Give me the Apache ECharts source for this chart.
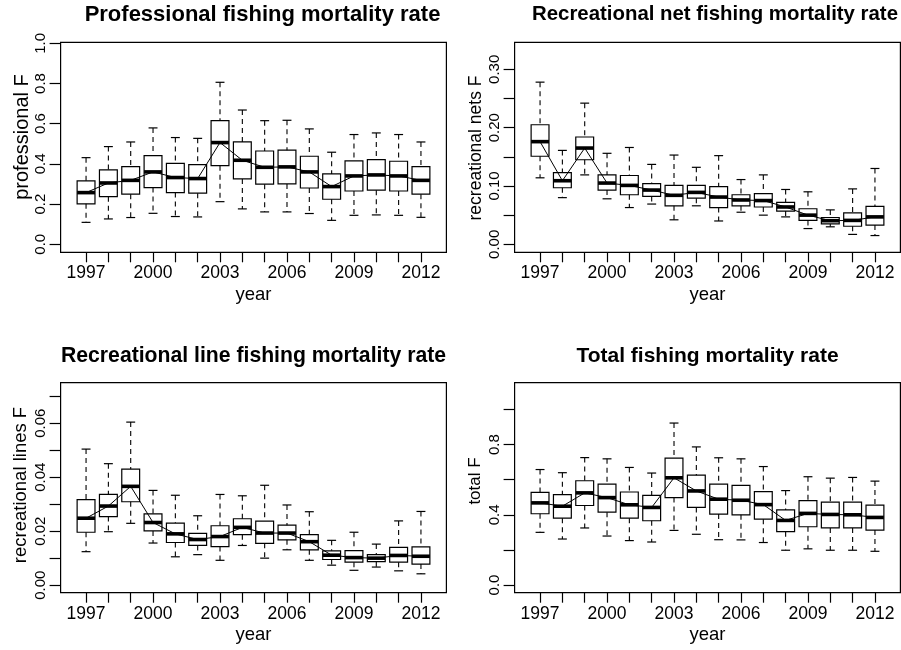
<!DOCTYPE html>
<html>
<head>
<meta charset="UTF-8">
<title>Fishing mortality rates</title>
<script type="text/javascript" src="https://cdn.jsdelivr.net/npm/echarts@6/dist/echarts.min.js"></script>
</head>
<body style="margin:0;background:#fff;">
<div id="container" style="width:901px;height:650px;"></div>
<script type="text/javascript">
var years = [1997, 1998, 1999, 2000, 2001, 2002, 2003, 2004, 2005, 2006, 2007, 2008, 2009, 2010, 2011, 2012];
var yearLabels = [1997, 2000, 2003, 2006, 2009, 2012];

// one row per year: [lower whisker, Q1, median, Q3, upper whisker]
var professional = [
  [0.109, 0.201, 0.257, 0.315, 0.431],
  [0.126, 0.237, 0.305, 0.370, 0.486],
  [0.133, 0.249, 0.318, 0.386, 0.509],
  [0.154, 0.282, 0.360, 0.441, 0.579],
  [0.138, 0.257, 0.332, 0.403, 0.531],
  [0.136, 0.254, 0.327, 0.396, 0.527],
  [0.212, 0.391, 0.506, 0.615, 0.806],
  [0.176, 0.325, 0.418, 0.509, 0.668],
  [0.161, 0.299, 0.383, 0.464, 0.615],
  [0.161, 0.300, 0.385, 0.468, 0.617],
  [0.153, 0.280, 0.360, 0.438, 0.574],
  [0.119, 0.224, 0.287, 0.350, 0.458],
  [0.144, 0.265, 0.340, 0.415, 0.546],
  [0.146, 0.269, 0.345, 0.421, 0.554],
  [0.144, 0.265, 0.340, 0.413, 0.546],
  [0.134, 0.249, 0.318, 0.386, 0.509]
];
var recNets = [
  [0.114, 0.151, 0.176, 0.205, 0.278],
  [0.080, 0.097, 0.109, 0.123, 0.161],
  [0.119, 0.145, 0.165, 0.184, 0.242],
  [0.078, 0.093, 0.105, 0.119, 0.156],
  [0.063, 0.085, 0.101, 0.118, 0.166],
  [0.069, 0.082, 0.093, 0.104, 0.137],
  [0.042, 0.066, 0.084, 0.101, 0.153],
  [0.066, 0.079, 0.089, 0.101, 0.132],
  [0.040, 0.063, 0.081, 0.099, 0.152],
  [0.055, 0.066, 0.076, 0.085, 0.111],
  [0.050, 0.064, 0.075, 0.087, 0.119],
  [0.047, 0.057, 0.064, 0.072, 0.094],
  [0.027, 0.041, 0.050, 0.061, 0.090],
  [0.030, 0.035, 0.0405, 0.046, 0.059],
  [0.017, 0.031, 0.041, 0.054, 0.095],
  [0.015, 0.033, 0.047, 0.065, 0.130]
];
var recLines = [
  [0.0124, 0.0196, 0.0248, 0.0317, 0.0504],
  [0.0198, 0.0254, 0.0293, 0.0336, 0.0450],
  [0.0229, 0.0309, 0.0366, 0.0430, 0.0604],
  [0.0156, 0.0201, 0.0232, 0.0264, 0.0351],
  [0.0105, 0.0158, 0.0190, 0.0230, 0.0333],
  [0.0113, 0.0147, 0.0169, 0.0192, 0.0257],
  [0.0092, 0.0143, 0.0180, 0.0220, 0.0336],
  [0.0147, 0.0187, 0.0214, 0.0246, 0.0331],
  [0.0100, 0.0155, 0.0193, 0.0237, 0.0370],
  [0.0131, 0.0168, 0.0193, 0.0222, 0.0297],
  [0.0092, 0.0131, 0.0161, 0.0187, 0.0272],
  [0.0074, 0.0095, 0.0111, 0.0127, 0.0166],
  [0.0055, 0.0085, 0.0102, 0.0128, 0.0196],
  [0.0067, 0.0087, 0.0100, 0.0113, 0.0152],
  [0.0053, 0.0085, 0.0110, 0.0140, 0.0238],
  [0.0042, 0.0078, 0.0107, 0.0142, 0.0273]
];
var totalF = [
  [0.300, 0.406, 0.468, 0.528, 0.658],
  [0.262, 0.381, 0.449, 0.515, 0.640],
  [0.325, 0.453, 0.525, 0.594, 0.726],
  [0.279, 0.415, 0.498, 0.575, 0.719],
  [0.253, 0.381, 0.457, 0.530, 0.670],
  [0.245, 0.366, 0.442, 0.511, 0.638],
  [0.311, 0.498, 0.611, 0.723, 0.923],
  [0.289, 0.442, 0.536, 0.626, 0.787],
  [0.258, 0.404, 0.489, 0.575, 0.725],
  [0.257, 0.400, 0.483, 0.568, 0.719],
  [0.242, 0.375, 0.458, 0.532, 0.675],
  [0.198, 0.304, 0.368, 0.428, 0.538],
  [0.206, 0.332, 0.408, 0.481, 0.617],
  [0.198, 0.325, 0.402, 0.472, 0.609],
  [0.198, 0.325, 0.400, 0.472, 0.613],
  [0.192, 0.313, 0.385, 0.455, 0.592]
];

// y ticks and the subset that carries a label
var profTicks = [0, 0.2, 0.4, 0.6, 0.8, 1.0];
var profLabels = [0, 0.2, 0.4, 0.6, 0.8, 1.0];
var netsTicks = [0, 0.05, 0.1, 0.15, 0.2, 0.25, 0.3];
var netsLabels = [0, 0.1, 0.2, 0.3];
var linesTicks = [0, 0.01, 0.02, 0.03, 0.04, 0.05, 0.06, 0.07];
var linesLabels = [0, 0.02, 0.04, 0.06];
var totalTicks = [0, 0.2, 0.4, 0.6, 0.8, 1.0];
var totalLabels = [0, 0.4, 0.8];

var font = 'Liberation Sans, Arial, Helvetica, sans-serif';

var panels = [
  { title: 'Professional fishing mortality rate', yName: 'professional F', data: professional,
    ticks: profTicks, labels: profLabels, digits: 1, ymin: -0.040, ymax: 1.005,
    left: 60.6, top: 42.3, titleX: 262.5, titleY: 14.5, titleSize: 22,
    nameX: 22, nameY: 137, nameSize: 20 },
  { title: 'Recreational net fishing mortality rate', yName: 'recreational nets F', data: recNets,
    ticks: netsTicks, labels: netsLabels, digits: 2, ymin: -0.0137, ymax: 0.3463,
    left: 514.6, top: 42.3, titleX: 715, titleY: 14.5, titleSize: 20.4,
    nameX: 476, nameY: 148, nameSize: 17.5 },
  { title: 'Recreational line fishing mortality rate', yName: 'recreational lines F', data: recLines,
    ticks: linesTicks, labels: linesLabels, digits: 2, ymin: -0.0028, ymax: 0.0750,
    left: 60.6, top: 382.7, titleX: 253.5, titleY: 356.5, titleSize: 21.2,
    nameX: 21, nameY: 485, nameSize: 18.5 },
  { title: 'Total fishing mortality rate', yName: 'total F', data: totalF,
    ticks: totalTicks, labels: totalLabels, digits: 1, ymin: -0.044, ymax: 1.153,
    left: 514.6, top: 382.7, titleX: 707.5, titleY: 356.5, titleSize: 21,
    nameX: 475, nameY: 481, nameSize: 17 }
];

function renderBox(params, api) {
  var x = api.value(0);
  var lo = api.coord([x, api.value(1)]);
  var q1 = api.coord([x, api.value(2)]);
  var md = api.coord([x, api.value(3)]);
  var q3 = api.coord([x, api.value(4)]);
  var hi = api.coord([x, api.value(5)]);
  var bw = api.size([0.8, 0])[0];
  var cw = bw / 2;
  var cx = md[0];
  var dashed = { stroke: '#000', lineWidth: 1.1, lineDash: [5, 4] };
  var solid = { stroke: '#000', lineWidth: 1.2 };
  return {
    type: 'group',
    children: [
      { type: 'line', shape: { x1: cx, y1: hi[1], x2: cx, y2: q3[1] }, style: dashed },
      { type: 'line', shape: { x1: cx, y1: q1[1], x2: cx, y2: lo[1] }, style: dashed },
      { type: 'line', shape: { x1: cx - cw / 2, y1: hi[1], x2: cx + cw / 2, y2: hi[1] }, style: solid },
      { type: 'line', shape: { x1: cx - cw / 2, y1: lo[1], x2: cx + cw / 2, y2: lo[1] }, style: solid },
      { type: 'rect', shape: { x: cx - bw / 2, y: q3[1], width: bw, height: q1[1] - q3[1] },
        style: { fill: 'none', stroke: '#000', lineWidth: 1.2 } },
      { type: 'line', shape: { x1: cx - bw / 2, y1: md[1], x2: cx + bw / 2, y2: md[1] },
        style: { stroke: '#000', lineWidth: 3.6 } }
    ]
  };
}

var grids = [], xAxes = [], yAxes = [], series = [], graphics = [];

panels.forEach(function (p, i) {
  grids.push({
    left: p.left, top: p.top, width: 385.8, height: 210,
    show: true, borderColor: '#000', borderWidth: 1.2, backgroundColor: 'transparent'
  });
  xAxes.push({
    gridIndex: i, type: 'value', min: 1995.86, max: 2013.14,
    axisLine: { show: false, onZero: false },
    splitLine: { show: false },
    axisTick: { show: true, length: 10, customValues: years, lineStyle: { color: '#000', width: 1.2 } },
    axisLabel: { customValues: yearLabels, margin: 12, color: '#000', fontSize: 17.5, fontFamily: font,
                 formatter: function (v) { return String(v); } },
    name: 'year', nameLocation: 'middle', nameGap: 33,
    nameTextStyle: { color: '#000', fontSize: 18.5, fontFamily: font }
  });
  yAxes.push({
    gridIndex: i, type: 'value', min: p.ymin, max: p.ymax,
    axisLine: { show: false, onZero: false },
    splitLine: { show: false },
    axisTick: { show: true, length: 11, customValues: p.ticks, lineStyle: { color: '#000', width: 1.2 } },
    axisLabel: {
      customValues: p.labels, rotate: 90, margin: 12, color: '#000', fontSize: 15, fontFamily: font,
      formatter: (function (d) { return function (v) { return Number(v).toFixed(d); }; })(p.digits)
    }
  });
  series.push({
    type: 'custom', xAxisIndex: i, yAxisIndex: i, renderItem: renderBox, silent: true,
    encode: { x: 0, y: [1, 2, 3, 4, 5] },
    data: years.map(function (yr, k) { return [yr].concat(p.data[k]); }),
    z: 2
  });
  series.push({
    type: 'line', xAxisIndex: i, yAxisIndex: i, symbol: 'none', silent: true,
    lineStyle: { color: '#000', width: 1 },
    data: years.map(function (yr, k) { return [yr, p.data[k][2]]; }),
    z: 3
  });
  graphics.push({
    type: 'text', x: p.titleX, y: p.titleY, silent: true,
    style: { text: p.title, fill: '#000', fontSize: p.titleSize, fontWeight: 'bold', fontFamily: font,
             align: 'center', verticalAlign: 'middle' }
  });
  graphics.push({
    type: 'text', x: p.nameX, y: p.nameY, rotation: Math.PI / 2, silent: true,
    style: { text: p.yName, fill: '#000', fontSize: p.nameSize, fontFamily: font,
             align: 'center', verticalAlign: 'middle' }
  });
});

var myChart = echarts.init(document.getElementById('container'), null, { renderer: 'canvas' });
var option = {
  backgroundColor: '#fff',
  animation: false,
  grid: grids,
  xAxis: xAxes,
  yAxis: yAxes,
  series: series,
  graphic: graphics
};
myChart.setOption(option);
</script>
</body>
</html>
